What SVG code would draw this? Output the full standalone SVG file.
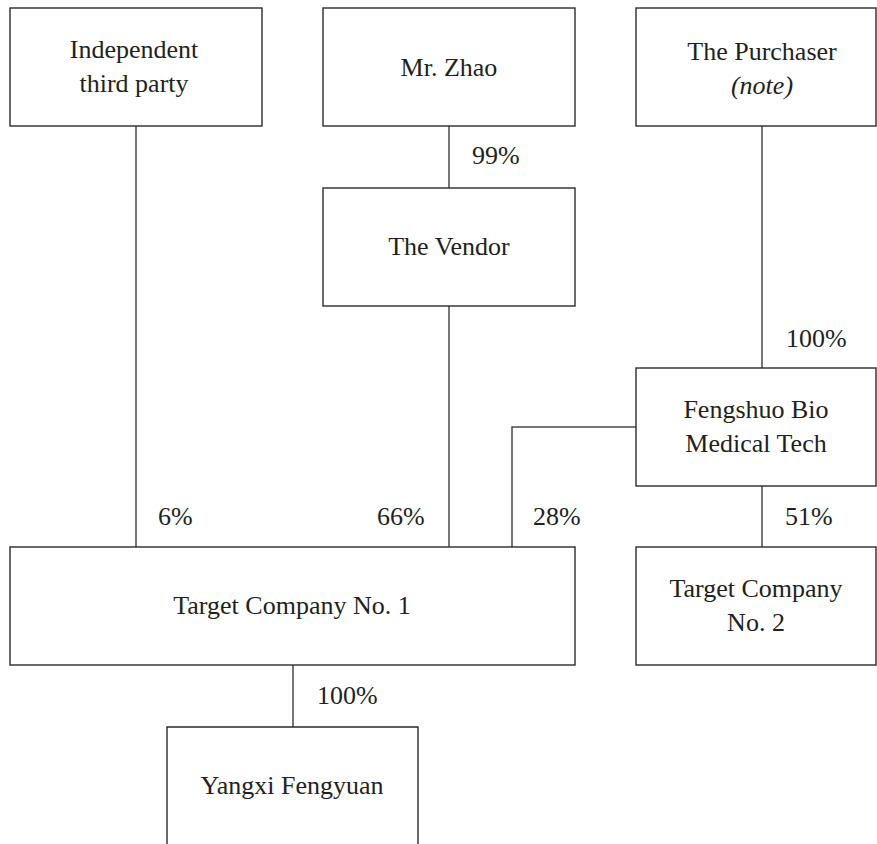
<svg xmlns="http://www.w3.org/2000/svg" width="877" height="844" viewBox="0 0 877 844">
<style>
.box{fill:#fff;stroke:#2b2b2b;stroke-width:1.4}
.conn{fill:none;stroke:#4a4a4a;stroke-width:1.5}
text{font-family:"Liberation Serif","Times New Roman",serif;font-size:26px;fill:#231f20}
.c{text-anchor:middle}
</style>
<rect width="877" height="844" fill="#fff"/>
<g id="connectors">
<line class="conn" x1="136" y1="126" x2="136" y2="547"/>
<line class="conn" x1="449" y1="126" x2="449" y2="188"/>
<line class="conn" x1="449" y1="306" x2="449" y2="547"/>
<line class="conn" x1="762" y1="126" x2="762" y2="368"/>
<polyline class="conn" points="636,427 512,427 512,547"/>
<line class="conn" x1="762" y1="486" x2="762" y2="547"/>
<line class="conn" x1="293" y1="665" x2="293" y2="727"/>
<text x="472" y="164">99%</text>
<text x="786" y="347">100%</text>
<text x="158" y="525">6%</text>
<text x="377" y="525">66%</text>
<text x="533" y="525">28%</text>
<text x="785" y="525">51%</text>
<text x="317" y="704">100%</text>
</g>
<g id="independent">
<rect class="box" x="10" y="8" width="252" height="118"/>
<text class="c" x="134" y="58">Independent</text>
<text class="c" x="134" y="92">third party</text>
</g>
<g id="zhao">
<rect class="box" x="323" y="8" width="252" height="118"/>
<text class="c" x="449" y="76">Mr. Zhao</text>
</g>
<g id="purchaser">
<rect class="box" x="636" y="8" width="240" height="118"/>
<text class="c" x="762" y="60">The Purchaser</text>
<text class="c" x="762" y="94" font-style="italic">(note)</text>
</g>
<g id="vendor">
<rect class="box" x="323" y="188" width="252" height="118"/>
<text class="c" x="449" y="255">The Vendor</text>
</g>
<g id="fengshuo">
<rect class="box" x="636" y="368" width="240" height="118"/>
<text class="c" x="756" y="418">Fengshuo Bio</text>
<text class="c" x="756" y="452">Medical Tech</text>
</g>
<g id="target1">
<rect class="box" x="10" y="547" width="565" height="118"/>
<text class="c" x="292" y="614">Target Company No. 1</text>
</g>
<g id="target2">
<rect class="box" x="636" y="547" width="240" height="118"/>
<text class="c" x="756" y="597">Target Company</text>
<text class="c" x="756" y="631">No. 2</text>
</g>
<g id="yangxi">
<path class="box" d="M167,845 V727 H418 V845"/>
<text class="c" x="292" y="794">Yangxi Fengyuan</text>
</g>
</svg>
